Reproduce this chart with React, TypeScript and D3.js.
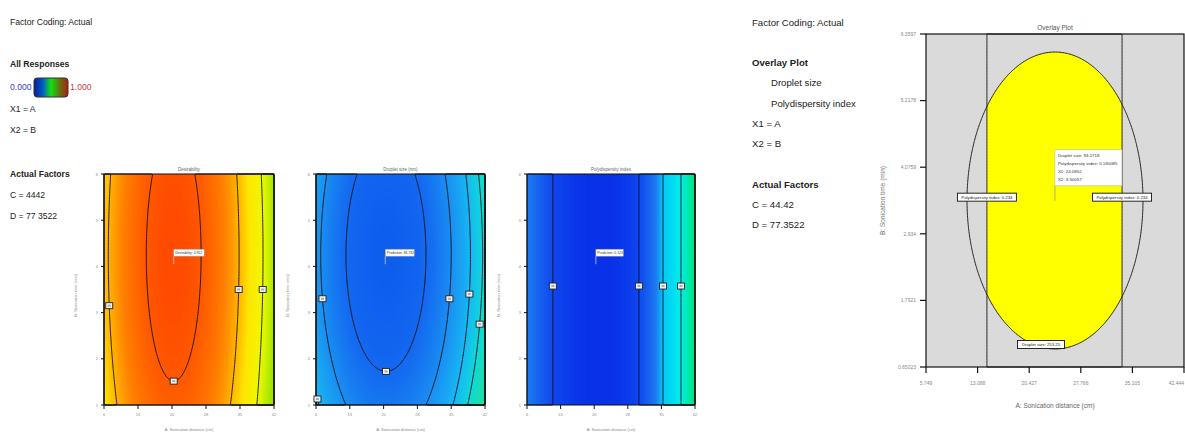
import React from "react";
import * as d3 from "d3";

const width = 1185;
const height = 432;
const font = "'Liberation Sans Narrow', 'Liberation Sans', Arial, sans-serif";

// factor ranges (actual units) and the tick values shown on the axes
const distRange = [5.749, 42.444];
const timeRange = [0.65023, 6.3597];
const distTicks = [5.749, 13.088, 20.427, 27.766, 35.105, 42.444];
const timeTicks = [0.65023, 1.7921, 2.934, 4.0759, 5.2178, 6.3597];

// fitted response surfaces, in fractions of each factor range
// value = curv[0]*dA^2 + curv[1]*dB^2 + skew*dA^3  (0 = optimum)
const desirOpt = [0.41, 0.65];
const desirCurv = [1, 0.087];
const desirSkew = 0;
const desirLevels = [0.026, 0.148, 0.276];

const dropOpt = [0.414, 0.65];
const dropCurv = [1, 0.22];
const dropSkew = 0;
const dropLevels = [0.056, 0.149, 0.25, 0.327];

const pdiOpt = [0.43, 0];
const pdiCurv = [1, 0];
const pdiSkew = 0.6;
const pdiLevels = [0.0636, 0.177, 0.306];

// flag positions on contours: [level index, B fraction, side (-1 left, 1 right, 0 bottom)]
const desirFlags = [[1, 0.43, -1], [0, 0, 0], [1, 0.5, 1], [2, 0.5, 1]];
const dropFlags = [[1, 0.46, -1], [0, 0, 0], [1, 0.46, 1], [2, 0.48, 1], [3, 0.35, 1], [2, 0.026, -1]];
const pdiFlags = [[0, 0.515, -1], [0, 0.515, 1], [1, 0.515, 1], [2, 0.515, 1]];

// optimum point shown in the small plots
const optPoint = [20.79, 4.13];
const panelNotes = ["Desirability: 0.952", "Prediction: 86.732", "Prediction: 0.123"];
const panelTitles = ["Desirability", "Droplet size (nm)", "Polydispersity index"];

// overlay plot: criteria surfaces and their limits
const ovDropOpt = [0.5, 0.5];
const ovDropCurv = [1, 0.585];
const ovDropLimit = 0.1163;
const ovPdiOpt = [0.498, 0];
const ovPdiCurv = [1, 0];
const ovPdiLimit = 0.0686;
const ovLimitLabels = ["Droplet size: 253.25", "Polydispersity index: 0.234"];
const flagPoint = [24.0852, 3.50057];
const flagLines = ["Droplet size: 94.1718", "Polydispersity index: 0.180085", "X1: 24.0852", "X2: 3.50057"];

// colour ramps (value stops -> colours)
const desirStops = [0, 0.026, 0.09, 0.148, 0.2, 0.276, 0.36];
const desirColors = ["#ff4a00", "#ff5800", "#ff8000", "#ffb400", "#ffe600", "#eef800", "#9ee600"];
const dropStops = [0, 0.056, 0.149, 0.25, 0.327, 0.42];
const dropColors = ["#0e5eee", "#1468f0", "#1a8ef2", "#18b8f4", "#10d8d8", "#20e0a0"];
const pdiStops = [0, 0.0636, 0.137, 0.177, 0.306, 0.44];
const pdiColors = ["#0830e8", "#1048f0", "#1e7cf0", "#08c8f8", "#00f0e8", "#00e070"];

type Fn = (u: number, v: number) => number;

const surface = (opt: number[], curv: number[], skew: number): Fn => (u, v) => {
  const a = u - opt[0];
  const b = v - opt[1];
  return curv[0] * a * a + curv[1] * b * b + skew * a * a * a;
};

const sample = (fn: Fn, nx: number, ny: number) => {
  const vals: number[] = new Array(nx * ny);
  for (let j = 0; j < ny; j++)
    for (let i = 0; i < nx; i++) vals[j * nx + i] = fn((i + 0.5) / nx, 1 - (j + 0.5) / ny);
  return vals;
};

// bisection along A (side +-1) or down B (side 0) to find where fn hits level
const onContour = (fn: Fn, opt: number[], level: number, v: number, side: number) => {
  let lo = side === 0 ? opt[1] : opt[0];
  let hi = side === 0 ? 0 : side < 0 ? 0 : 1;
  for (let k = 0; k < 40; k++) {
    const mid = (lo + hi) / 2;
    const val = side === 0 ? fn(opt[0], mid) : fn(mid, v);
    if (val < level) lo = mid;
    else hi = mid;
  }
  const t = (lo + hi) / 2;
  return side === 0 ? [opt[0], t] : [t, v];
};

const makePath = (nx: number, ny: number, x0: number, x1: number, y0: number, y1: number) => {
  const gx = d3.scaleLinear([0, nx], [x0, x1]);
  const gy = d3.scaleLinear([0, ny], [y0, y1]);
  return d3.geoPath(
    d3.geoTransform({
      point(x: number, y: number) {
        (this as any).stream.point(gx(x), gy(y));
      },
    })
  );
};

const Panel = ({ left, right, top, bottom, fn, opt, levels, stops, colors, flags, title, note }: any) => {
  const nx = 110;
  const ny = 150;
  const vals = sample(fn, nx, ny);
  const maxV = d3.max(vals) as number;
  const step = maxV / 90;
  const bands = d3.contours().size([nx, ny]).thresholds(d3.range(0, maxV, step))(vals);
  const lines = d3.contours().size([nx, ny]).thresholds(levels)(vals);
  const path = makePath(nx, ny, left, right, top, bottom);
  const color = d3.scaleLinear<string>().domain(stops).range(colors).clamp(true);
  const u = d3.scaleLinear([0, 1], [left, right]);
  const v = d3.scaleLinear([0, 1], [bottom, top]);
  const x = d3.scaleLinear(distRange, [left, right]);
  const y = d3.scaleLinear(timeRange, [bottom, top]);
  const ax = x(optPoint[0]);
  const ay = y(optPoint[1]);
  const mid = (left + right) / 2;
  return (
    <g>
      {bands.map((b, i) => (
        <path key={i} d={path(b as any) || ""} fill={color(b.value + step / 2)} stroke="none" />
      ))}
      {lines.map((b, i) => (
        <path key={i} d={path(b as any) || ""} fill="none" stroke="#111" strokeWidth={0.9} />
      ))}
      <rect x={left} y={top} width={right - left} height={bottom - top} fill="none" stroke="#111" strokeWidth={1} />
      {distTicks.map((t, i) => (
        <g key={i}>
          <line x1={x(t)} x2={x(t)} y1={bottom} y2={bottom + 4} stroke="#111" />
          <text x={x(t)} y={bottom + 11} fontSize={4} fill="#888" textAnchor="middle" fontFamily={font}>
            {d3.format(".0f")(t)}
          </text>
        </g>
      ))}
      {timeTicks.map((t, i) => (
        <g key={i}>
          <line x1={left - 3} x2={left} y1={y(t)} y2={y(t)} stroke="#111" />
          <text x={left - 6} y={y(t) + 1.5} fontSize={4} fill="#888" textAnchor="end" fontFamily={font}>
            {d3.format(".0f")(t)}
          </text>
        </g>
      ))}
      <text x={mid} y={171} fontSize={4.5} fill="#666" textAnchor="middle" fontFamily={font}>
        {title}
      </text>
      <text x={mid} y={431} fontSize={4} fill="#888" textAnchor="middle" fontFamily={font}>
        A: Sonication distance (cm)
      </text>
      <text
        transform={`translate(${left - 27},${(top + bottom) / 2 + 6}) rotate(-90)`}
        fontSize={4}
        fill="#888"
        textAnchor="middle"
        fontFamily={font}
      >
        B: Sonication time (min)
      </text>
      {flags.map((f: number[], i: number) => {
        const p = onContour(fn, opt, levels[f[0]], f[1], f[2]);
        return (
          <g key={i}>
            <rect x={u(p[0]) - 3.5} y={v(p[1]) - 3} width={7} height={6} fill="#f2f2f2" stroke="#222" strokeWidth={0.9} />
            <rect x={u(p[0]) - 1.5} y={v(p[1]) - 1} width={3} height={2} fill="#aaa" />
          </g>
        );
      })}
      <line x1={ax} x2={ax} y1={ay - 8} y2={ay} stroke="#ccc" strokeWidth={0.8} />
      <rect x={ax} y={ay - 15} width={note.length * 1.5 + 2} height={7} fill="#fff" stroke="#999" strokeWidth={0.5} />
      <text x={ax + 1.5} y={ay - 10} fontSize={3.4} fill="#333" fontFamily={font}>
        {note}
      </text>
    </g>
  );
};

const Overlay = () => {
  const left = 926;
  const right = 1184;
  const top = 34;
  const bottom = 367;
  const nx = 180;
  const ny = 230;
  const fd = surface(ovDropOpt, ovDropCurv, 0);
  const fp = surface(ovPdiOpt, ovPdiCurv, 0);
  const both = sample((a, b) => -Math.max(fd(a, b) / ovDropLimit, fp(a, b) / ovPdiLimit), nx, ny);
  const dVals = sample((a, b) => -fd(a, b), nx, ny);
  const pVals = sample((a, b) => -fp(a, b), nx, ny);
  const cont = d3.contours().size([nx, ny]);
  const region = cont.thresholds([-1])(both)[0];
  const ellipse = cont.thresholds([-ovDropLimit])(dVals)[0];
  const band = cont.thresholds([-ovPdiLimit])(pVals)[0];
  const path = makePath(nx, ny, left, right, top, bottom);
  const x = d3.scaleLinear(distRange, [left, right]);
  const y = d3.scaleLinear(timeRange, [bottom, top]);
  const u = d3.scaleLinear([0, 1], [left, right]);
  const v = d3.scaleLinear([0, 1], [bottom, top]);
  const pl = onContour(fp, ovPdiOpt, ovPdiLimit, 0.51, -1);
  const pr = onContour(fp, ovPdiOpt, ovPdiLimit, 0.51, 1);
  const db = onContour(fd, ovDropOpt, ovDropLimit, 0, 0);
  const fx = x(flagPoint[0]);
  const fy = y(flagPoint[1]);
  const box = (cx: number, cy: number, w: number, label: string, k: number) => (
    <g key={k}>
      <rect x={cx - w / 2} y={cy - 4} width={w} height={8} fill="#fff" stroke="#111" strokeWidth={0.9} />
      <text x={cx} y={cy + 1.6} fontSize={4.3} fill="#222" textAnchor="middle" fontFamily={font}>
        {label}
      </text>
    </g>
  );
  const last = distTicks.length - 1;
  return (
    <g>
      <rect x={left} y={top} width={right - left} height={bottom - top} fill="#dadada" />
      <path d={path(region as any) || ""} fill="#ffff00" />
      <path d={path(ellipse as any) || ""} fill="none" stroke="#111" strokeWidth={0.9} />
      <path d={path(band as any) || ""} fill="none" stroke="#111" strokeWidth={0.9} />
      <rect x={left} y={top} width={right - left} height={bottom - top} fill="none" stroke="#111" strokeWidth={1.2} />
      {distTicks.map((t, i) => (
        <g key={i}>
          <line x1={x(t)} x2={x(t)} y1={bottom} y2={bottom + 6} stroke="#111" strokeWidth={1.2} />
          <text
            x={i === last ? width - 1 : x(t)}
            y={bottom + 18}
            fontSize={5}
            fill="#888"
            textAnchor={i === last ? "end" : "middle"}
            fontFamily={font}
          >
            {d3.format(".3f")(t)}
          </text>
        </g>
      ))}
      {timeTicks.map((t, i) => (
        <g key={i}>
          <line x1={left - 6} x2={left} y1={y(t)} y2={y(t)} stroke="#111" strokeWidth={1.2} />
          <text x={left - 10} y={y(t) + 1.8} fontSize={5} fill="#888" textAnchor="end" fontFamily={font}>
            {d3.format(".5~r")(t)}
          </text>
        </g>
      ))}
      <text x={(left + right) / 2} y={30} fontSize={6.5} fill="#555" textAnchor="middle" fontFamily={font}>
        Overlay Plot
      </text>
      <text x={(left + right) / 2} y={408} fontSize={6.5} fill="#666" textAnchor="middle" fontFamily={font}>
        A: Sonication distance (cm)
      </text>
      <text
        transform={`translate(${885},${(top + bottom) / 2}) rotate(-90)`}
        fontSize={6.5}
        fill="#777"
        textAnchor="middle"
        fontFamily={font}
      >
        B: Sonication time (min)
      </text>
      {box(u(pl[0]), v(pl[1]), 59, ovLimitLabels[1], 1)}
      {box(u(pr[0]), v(pr[1]), 59, ovLimitLabels[1], 2)}
      {box(u(db[0]) - 14, v(db[1]) - 4.5, 47, ovLimitLabels[0], 3)}
      <line x1={fx} x2={fx} y1={fy - 15} y2={fy} stroke="#999" strokeWidth={0.8} />
      <rect x={fx} y={fy - 51} width={67} height={36} fill="#fff" stroke="#bbb" strokeWidth={0.6} />
      {flagLines.map((s, i) => (
        <text key={i} x={fx + 3} y={fy - 44 + i * 8} fontSize={4.4} fill="#333" fontFamily={font}>
          {s}
        </text>
      ))}
    </g>
  );
};

const T = ({ x, y, size, bold, color, children }: any) => (
  <text x={x} y={y} fontSize={size} fontWeight={bold ? "bold" : "normal"} fill={color || "#222"} fontFamily={font}>
    {children}
  </text>
);

export default function App() {
  const panels = [
    { left: 104, right: 274, fn: surface(desirOpt, desirCurv, desirSkew), opt: desirOpt, levels: desirLevels, stops: desirStops, colors: desirColors, flags: desirFlags },
    { left: 316, right: 485, fn: surface(dropOpt, dropCurv, dropSkew), opt: dropOpt, levels: dropLevels, stops: dropStops, colors: dropColors, flags: dropFlags },
    { left: 527, right: 695, fn: surface(pdiOpt, pdiCurv, pdiSkew), opt: pdiOpt, levels: pdiLevels, stops: pdiStops, colors: pdiColors, flags: pdiFlags },
  ];
  return (
    <div style={{ position: "absolute", left: 0, top: 0 }}>
      <svg width={width} height={height} style={{ display: "block", background: "#fff" }}>
        <defs>
          <linearGradient id="allResp" x1="0" x2="1" y1="0" y2="0">
            <stop offset="0" stopColor="#0a1a9a" />
            <stop offset="0.25" stopColor="#0058c8" />
            <stop offset="0.5" stopColor="#10e010" />
            <stop offset="0.78" stopColor="#6a6a10" />
            <stop offset="1" stopColor="#b01e10" />
          </linearGradient>
        </defs>
        {/* left legend block */}
        <T x={10} y={25} size={8.6}>Factor Coding: Actual</T>
        <T x={10} y={67} size={8.6} bold>All Responses</T>
        <T x={10} y={90} size={8.6} color="#3a3acc">0.000</T>
        <rect x={34} y={78} width={34} height={19} rx={3} fill="url(#allResp)" stroke="#333" strokeWidth={1} />
        <T x={70} y={90} size={8.6} color="#cc3a3a">1.000</T>
        <T x={10} y={112} size={8.6}>X1 = A</T>
        <T x={10} y={133} size={8.6}>X2 = B</T>
        <T x={10} y={177} size={8.6} bold>Actual Factors</T>
        <T x={10} y={198} size={8.6}>C = 4442</T>
        <T x={10} y={219} size={8.6}>D = 77 3522</T>

        {panels.map((p, i) => (
          <Panel key={i} {...p} top={174} bottom={405} title={panelTitles[i]} note={panelNotes[i]} />
        ))}

        {/* right legend block */}
        <T x={752} y={26} size={9.6}>Factor Coding: Actual</T>
        <T x={752} y={66} size={9.6} bold>Overlay Plot</T>
        <T x={771} y={86} size={9.6}>Droplet size</T>
        <T x={771} y={107} size={9.6}>Polydispersity index</T>
        <T x={752} y={127} size={9.6}>X1 = A</T>
        <T x={752} y={147} size={9.6}>X2 = B</T>
        <T x={752} y={188} size={9.6} bold>Actual Factors</T>
        <T x={752} y={208} size={9.6}>C = 44.42</T>
        <T x={752} y={228} size={9.6}>D = 77.3522</T>

        <Overlay />
      </svg>
    </div>
  );
}
